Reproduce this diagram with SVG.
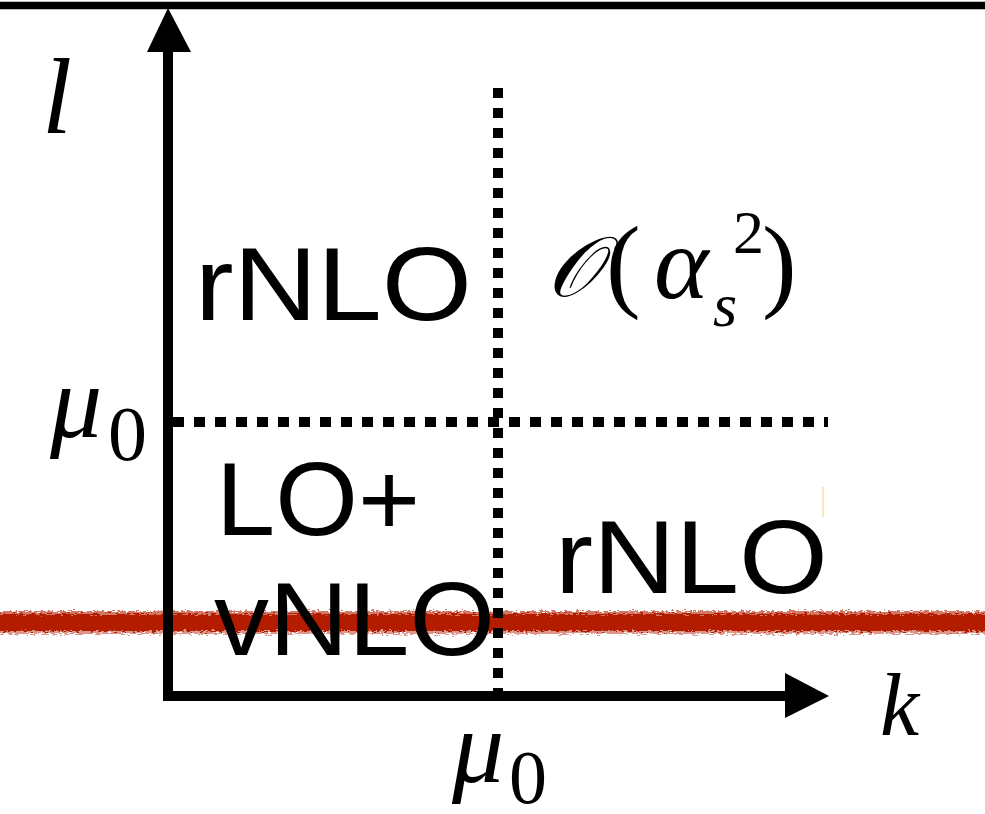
<svg xmlns="http://www.w3.org/2000/svg" width="985" height="814" viewBox="0 0 985 814">
<style>
.lab{font-family:"Liberation Sans",Lato,sans-serif;font-size:104px;fill:#000}
.math{font-family:"Liberation Serif","DejaVu Serif",serif;font-style:italic;fill:#000}
.up{font-family:"Liberation Serif","DejaVu Serif",serif;font-style:normal;fill:#000}
.axis{stroke:#000;stroke-width:10;fill:none}
.dot{stroke:#000;stroke-width:10;fill:none}
</style>
<defs>
<filter id="rough" x="-5%" y="-100%" width="110%" height="300%">
<feTurbulence type="fractalNoise" baseFrequency="0.25 0.9" numOctaves="2" seed="3" result="n"/>
<feDisplacementMap in="SourceGraphic" in2="n" scale="8" xChannelSelector="R" yChannelSelector="G"/>
</filter>
</defs>
<rect width="985" height="814" fill="#fff"/>
<g id="topline"><line x1="0" y1="5.5" x2="985" y2="5.5" stroke="#000" stroke-width="7.5"/></g>
<g id="redline" filter="url(#rough)">
<rect x="-5" y="614" width="995" height="17" fill="#b41a04"/>
<rect x="-5" y="611" width="995" height="3" fill="#b41a04" opacity="0.6"/>
<rect x="-5" y="631" width="995" height="3" fill="#b41a04" opacity="0.45"/>
</g>
<g id="sliver"><line x1="823" y1="487" x2="823" y2="517" stroke="#f0d27a" stroke-width="1.5" opacity="0.7"/></g>
<g id="connectors">
<line class="dot" x1="498" y1="88" x2="498" y2="692" stroke-dasharray="10 10"/>
<line class="dot" x1="173" y1="422" x2="828" y2="422" stroke-dasharray="11 10"/>
<line class="axis" x1="168" y1="50" x2="168" y2="696"/>
<polygon points="168,8 147,52 191,52" fill="#000"/>
<line class="axis" x1="163" y1="696" x2="787" y2="696"/>
<polygon points="785,673 829,696 785,718" fill="#000"/>
</g>
<g id="label-l"><text class="math" x="42" y="133" font-size="108">l</text></g>
<g id="label-k"><text class="math" x="880" y="735" font-size="88">k</text></g>
<g id="label-mu-left"><text class="math" x="50" y="437" font-size="104">μ</text><text class="up" x="108" y="460" font-size="78">0</text></g>
<g id="label-mu-bottom"><text class="math" x="452" y="782" font-size="104">μ</text><text class="up" x="509" y="803" font-size="76">0</text></g>
<g id="region-rnlo-top"><text class="lab" x="195" y="320" textLength="277" lengthAdjust="spacingAndGlyphs">rNLO</text></g>
<g id="region-order"><text class="math" x="547" y="296" font-size="84">𝒪</text><text class="up" x="606" y="298" font-size="104">(</text><text class="math" x="654" y="298" font-size="104">α</text><text class="math" x="713" y="326" font-size="62">s</text><text class="up" x="733" y="253" font-size="62">2</text><text class="up" x="762" y="298" font-size="104">)</text></g>
<g id="region-lo"><text class="lab" x="216" y="535" textLength="204" lengthAdjust="spacingAndGlyphs">LO+</text></g>
<g id="region-vnlo"><text class="lab" x="214" y="655" textLength="281" lengthAdjust="spacingAndGlyphs">vNLO</text></g>
<g id="region-rnlo-bottom"><text class="lab" x="555" y="593" textLength="273" lengthAdjust="spacingAndGlyphs">rNLO</text></g>
</svg>
